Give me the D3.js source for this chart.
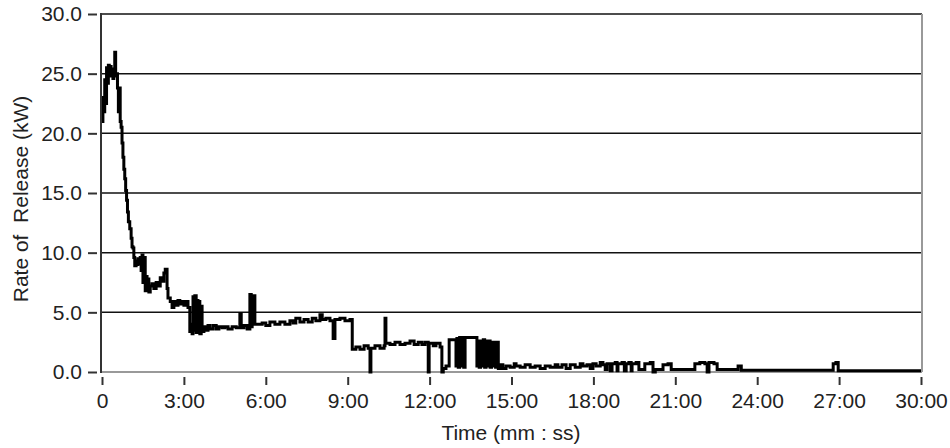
<!DOCTYPE html>
<html>
<head>
<meta charset="UTF-8">
<title>Rate of Release</title>
<style>
  body { margin: 0; background: #fff; }
  text { font-family: "Liberation Sans", Arial, sans-serif; }
</style>
</head>
<body>
<script src="https://cdn.jsdelivr.net/npm/d3@7"></script>
<script>
// time in seconds, rate of release in kW (step data), 10 per row
var timeSec = [
  0, 2, 4, 6, 8, 10, 12, 14, 16, 18,
  20, 22, 24, 26, 28, 30, 32, 34, 36, 38,
  40, 42, 44, 46, 48, 50, 52, 54, 56, 58,
  61, 64, 66, 68, 70, 72, 75, 77, 79, 81,
  84, 86, 88, 90, 92, 95, 97, 99, 101, 103,
  106, 110, 114, 119, 123, 128, 132, 136, 139, 143,
  145, 150, 154, 158, 163, 167, 171, 176, 180, 185,
  189, 193, 196, 198, 200, 202, 204, 207, 209, 211,
  213, 215, 218, 220, 224, 229, 233, 237, 244, 251,
  257, 264, 270, 277, 286, 295, 303, 306, 312, 319,
  325, 328, 330, 336, 352, 360, 369, 380, 391, 402,
  413, 420, 426, 435, 444, 453, 462, 470, 479, 484,
  492, 501, 508, 512, 523, 534, 545, 550, 558, 567,
  576, 585, 589, 591, 600, 611, 620, 622, 624, 633,
  644, 655, 666, 677, 686, 695, 703, 710, 717, 719,
  728, 734, 743, 747, 750, 756, 763, 778, 780, 783,
  786, 789, 792, 795, 798, 824, 826, 829, 832, 835,
  838, 841, 844, 847, 850, 853, 856, 859, 862, 865,
  868, 871, 875, 881, 888, 897, 906, 910, 919, 930,
  941, 952, 963, 974, 985, 996, 1002, 1011, 1020, 1029,
  1040, 1051, 1057, 1066, 1073, 1079, 1086, 1095, 1101, 1106,
  1110, 1117, 1121, 1128, 1132, 1134, 1143, 1148, 1152, 1158,
  1163, 1165, 1174, 1180, 1193, 1205, 1211, 1216, 1233, 1244,
  1251, 1303, 1314, 1325, 1330, 1334, 1345, 1352, 1398, 1405,
  1607, 1613, 1618, 1800
];
var releaseKW = [
  21.0, 23.0, 21.8, 24.5, 22.5, 25.5, 24.2, 25.7, 25.0, 25.6,
  24.8, 25.4, 24.6, 25.2, 26.8, 24.8, 25.0, 23.8, 21.8, 23.8,
  21.0, 20.5, 19.2, 18.0, 17.0, 16.2, 15.2, 14.4, 13.4, 12.6,
  12.0, 11.2, 10.5, 10.4, 9.6, 8.9, 9.3, 9.0, 9.5, 9.1,
  9.6, 8.5, 9.8, 7.5, 9.6, 6.8, 8.0, 7.0, 7.8, 6.7,
  7.2, 7.4, 7.0, 7.5, 7.2, 7.9, 7.6, 8.3, 8.6, 7.0,
  6.2, 5.9, 5.4, 5.9, 5.6, 6.0, 5.7, 5.9, 5.6, 5.9,
  5.4, 3.4, 4.0, 3.2, 6.3, 3.5, 6.4, 3.3, 6.0, 3.6,
  5.9, 3.2, 5.5, 3.4, 3.8, 3.5, 3.9, 3.6, 3.9, 3.6,
  3.8, 3.7, 3.8, 3.6, 3.8, 3.7, 4.9, 3.7, 3.9, 3.6,
  6.5, 3.8, 6.4, 4.0, 4.1, 3.9, 4.2, 4.0, 4.2, 4.0,
  4.3, 4.1, 4.5, 4.2, 4.4, 4.2, 4.5, 4.3, 4.8, 4.4,
  4.5, 4.3, 2.8, 4.4, 4.5, 4.3, 4.4, 1.9, 2.1, 1.9,
  2.2, 2.0, 0.0, 2.0, 2.2, 2.0, 2.2, 4.5, 2.4, 2.3,
  2.5, 2.3, 2.4, 2.6, 2.3, 2.5, 2.3, 2.5, 0.0, 2.4,
  2.2, 2.4, 2.1, 0.0, 0.3, 0.5, 2.7, 0.5, 2.8, 0.4,
  2.9, 0.5, 2.9, 0.4, 2.9, 0.5, 2.6, 0.4, 2.6, 0.5,
  2.7, 0.4, 2.6, 0.5, 2.6, 0.4, 2.5, 0.5, 2.5, 0.4,
  2.5, 0.3, 0.6, 0.3, 0.5, 0.4, 0.7, 0.5, 0.4, 0.6,
  0.4, 0.5, 0.3, 0.5, 0.4, 0.6, 0.4, 0.6, 0.3, 0.6,
  0.4, 0.7, 0.5, 0.6, 0.3, 0.7, 0.5, 0.8, 0.6, 0.2,
  0.7, 0.1, 0.7, 0.8, 0.1, 0.7, 0.8, 0.1, 0.7, 0.8,
  0.1, 0.7, 0.8, 0.2, 0.7, 0.8, 0.0, 0.2, 0.6, 0.7,
  0.2, 0.7, 0.8, 0.7, 0.0, 0.8, 0.7, 0.2, 0.5, 0.15,
  0.7, 0.8, 0.1, 0.1
];
var yTicks = [0, 5, 10, 15, 20, 25, 30];
var xTicks = [0, 180, 360, 540, 720, 900, 1080, 1260, 1440, 1620, 1800];
var xTitle = "Time (mm : ss)";
var yTitle = "Rate of  Release (kW)";

var width = 950, height = 448;
var plotL = 101, plotR = 922, plotT = 14, plotB = 372;

var svg = d3.select("body").append("svg")
  .attr("width", width)
  .attr("height", height);

var x = d3.scaleLinear().domain([0, 1800]).range([102, 921]);
var y = d3.scaleLinear().domain([0, 30]).range([plotB, plotT]);

// grid lines
svg.append("g")
  .selectAll("line")
  .data(yTicks.filter(function(d) { return d > 0 && d < 30; }))
  .enter().append("line")
  .attr("x1", plotL).attr("x2", plotR)
  .attr("y1", function(d) { return y(d); })
  .attr("y2", function(d) { return y(d); })
  .attr("stroke", "#111")
  .attr("stroke-width", 1.5);

// frame: top and left dark, bottom and right grey
svg.append("line").attr("x1", plotL).attr("x2", plotR).attr("y1", plotT).attr("y2", plotT)
  .attr("stroke", "#111").attr("stroke-width", 1.5);
svg.append("line").attr("x1", plotR).attr("x2", plotR).attr("y1", plotT).attr("y2", plotB)
  .attr("stroke", "#999").attr("stroke-width", 2);
svg.append("line").attr("x1", plotL).attr("x2", plotR).attr("y1", plotB).attr("y2", plotB)
  .attr("stroke", "#999").attr("stroke-width", 2);

// data
var pts = timeSec.map(function(t, i) { return [t, releaseKW[i]]; });
var line = d3.line()
  .x(function(d) { return x(d[0]); })
  .y(function(d) { return y(d[1]); })
  .curve(d3.curveStepAfter);

svg.append("path")
  .datum(pts)
  .attr("d", line)
  .attr("fill", "none")
  .attr("stroke", "#000")
  .attr("stroke-width", 3)
  .attr("stroke-linejoin", "miter");

svg.append("line").attr("x1", plotL).attr("x2", plotL).attr("y1", plotT - 1).attr("y2", plotB + 1)
  .attr("stroke", "#333").attr("stroke-width", 2);

// axes
function fmtTime(s) {
  if (s === 0) return "0";
  var m = Math.floor(s / 60), sec = s % 60;
  return m + ":" + (sec < 10 ? "0" : "") + sec;
}

var yAxis = svg.append("g")
  .attr("transform", "translate(97,0)")
  .call(d3.axisLeft(y).tickValues(yTicks).tickFormat(d3.format(".1f"))
    .tickSize(9).tickPadding(6));
var xAxis = svg.append("g")
  .attr("transform", "translate(0,377)")
  .call(d3.axisBottom(x).tickValues(xTicks).tickFormat(fmtTime)
    .tickSize(8).tickPadding(8));

[yAxis, xAxis].forEach(function(g) {
  g.select(".domain").remove();
  g.selectAll(".tick line").attr("stroke", "#333").attr("stroke-width", 2);
  g.selectAll(".tick text")
    .attr("fill", "#222")
    .style("font-size", "21px")
    .style("font-family", "'Liberation Sans', Arial, sans-serif");
});

svg.append("text")
  .attr("x", 511).attr("y", 440)
  .attr("text-anchor", "middle")
  .attr("fill", "#222")
  .style("font-size", "21px")
  .text(xTitle);

svg.append("text")
  .attr("transform", "translate(28,199) rotate(-90)")
  .attr("text-anchor", "middle")
  .attr("fill", "#222")
  .style("font-size", "21px")
  .style("white-space", "pre")
  .text(yTitle);
</script>
</body>
</html>
